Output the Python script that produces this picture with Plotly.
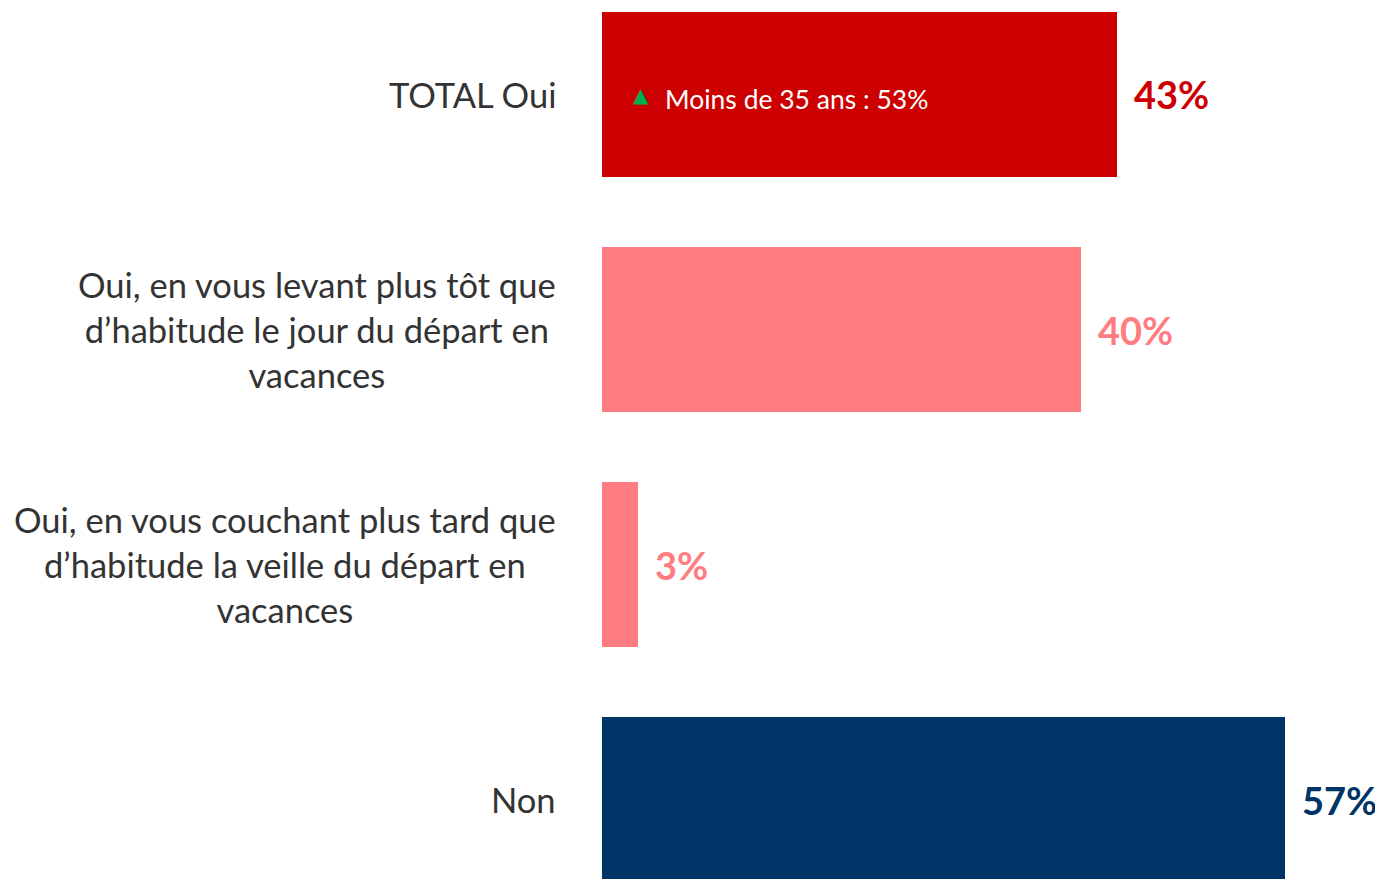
import plotly.graph_objects as go

categories = [
    "TOTAL Oui",
    "Oui, en vous levant plus tôt que<br>d’habitude le jour du départ en<br>vacances",
    "Oui, en vous couchant plus tard que<br>d’habitude la veille du départ en<br>vacances",
    "Non",
]
values = [43, 40, 3, 57]
value_labels = ["43%", "40%", "3%", "57%"]
bar_colors = ["#CC0000", "#FF7C80", "#FF7C80", "#003366"]
note_text = "Moins de 35 ans : 53%"

FONT = "Lato, 'Open Sans', sans-serif"
ids = list(range(len(categories)))

fig = go.Figure()
fig.add_trace(go.Bar(
    y=ids, x=values, orientation="h",
    marker=dict(color=bar_colors, line=dict(width=0)),
    width=0.702, hoverinfo="skip",
))

ann = []
for i, (cat, v, lab, col) in enumerate(zip(categories, values, value_labels, bar_colors)):
    ann.append(dict(x=0, y=i, xref="x", yref="y", text=cat, showarrow=False,
                    xanchor="right", yanchor="middle", align="center", xshift=-44,
                    font=dict(family=FONT, size=34.5, color="#333333")))
    ann.append(dict(x=v, y=i, xref="x", yref="y", text="<b>%s</b>" % lab, showarrow=False,
                    xanchor="left", yanchor="middle", xshift=15, yshift=0,
                    font=dict(family=FONT, size=38, color=col)))

ann.append(dict(x=0, y=0, xref="x", yref="y", text="▲", showarrow=False,
                xanchor="left", yanchor="middle", xshift=29, yshift=-1,
                font=dict(family="DejaVu Sans", size=20, color="#00B050")))
ann.append(dict(x=0, y=0, xref="x", yref="y", text=note_text, showarrow=False,
                xanchor="left", yanchor="middle", xshift=61, yshift=-5,
                font=dict(family=FONT, size=26.5, color="#FFFFFF")))

fig.update_layout(
    width=1383, height=879,
    margin=dict(l=594, r=0, t=0, b=0),
    paper_bgcolor="white", plot_bgcolor="white",
    showlegend=False,
    bargap=0,
    annotations=ann,
    xaxis=dict(range=[0, 65.86], visible=False, fixedrange=True),
    yaxis=dict(range=[3.372, -0.368], visible=False, fixedrange=True),
)

fig.write_html("out.html", config={"displayModeBar": False})
